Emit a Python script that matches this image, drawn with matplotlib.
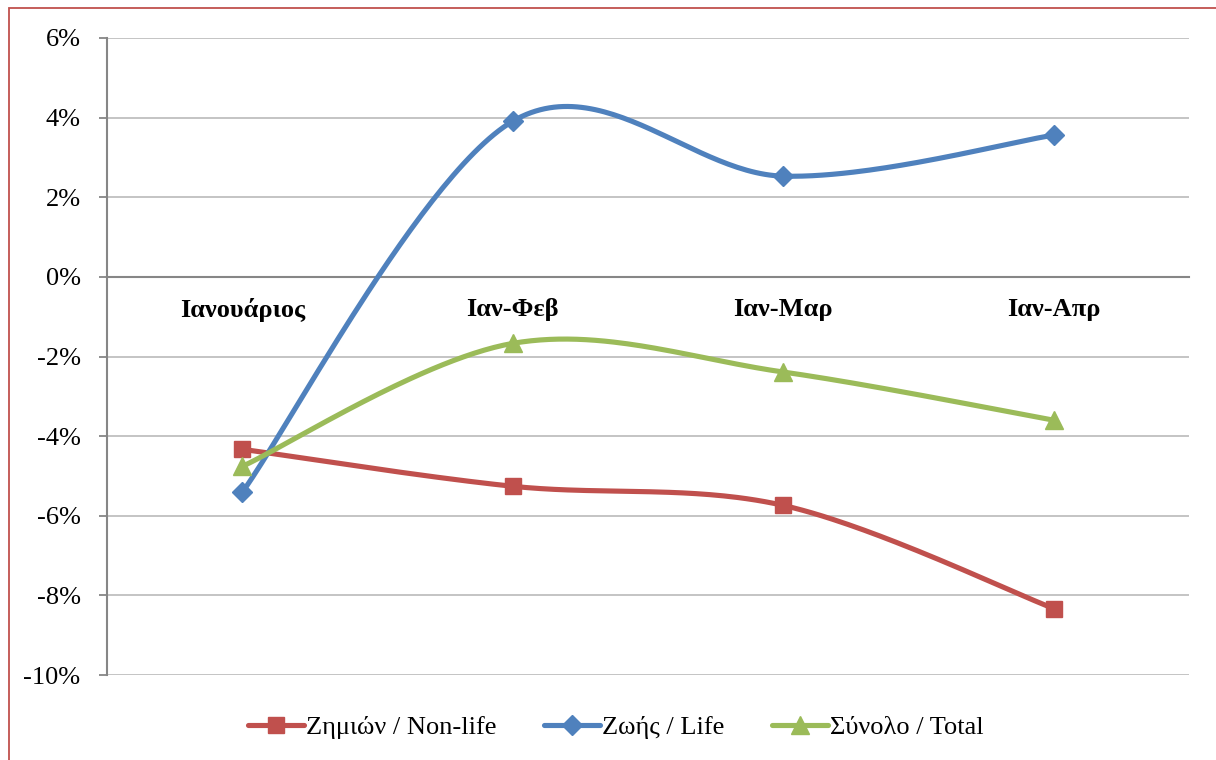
import numpy as np
import matplotlib
matplotlib.use("Agg")
import matplotlib.pyplot as plt
from matplotlib.lines import Line2D
from matplotlib.patches import Rectangle

categories = ["Ιανουάριος", "Ιαν-Φεβ", "Ιαν-Μαρ", "Ιαν-Απρ"]
nonlife = [-4.33, -5.26, -5.74, -8.33]
life = [-5.41, 3.91, 2.53, 3.56]
total = [-4.76, -1.67, -2.39, -3.60]
series_names = ["Ζημιών / Non-life", "Ζωής / Life", "Σύνολο / Total"]
yticks = [-10, -8, -6, -4, -2, 0, 2, 4, 6]

plt.rcParams['font.family'] = ['Liberation Serif', 'DejaVu Serif']

W, H = 1216, 760
fig = plt.figure(figsize=(W / 100, H / 100), dpi=100)
ax = fig.add_axes([107 / W, 1 - 675 / H, (1189 - 107) / W, (675 - 38) / H])


def excel_smooth(xs, ys, n=60):
    P = np.column_stack([xs, ys]).astype(float)
    m = len(P)
    out = []
    for i in range(m - 1):
        p0 = P[i - 1] if i > 0 else P[i]
        p1 = P[i]
        p2 = P[i + 1]
        p3 = P[i + 2] if i + 2 < m else P[i + 1]
        c1 = p1 + (p2 - p0) / 6.0
        c2 = p2 - (p3 - p1) / 6.0
        t = np.linspace(0, 1, n)[:, None]
        seg = ((1 - t) ** 3) * p1 + 3 * ((1 - t) ** 2) * t * c1 + 3 * (1 - t) * t ** 2 * c2 + t ** 3 * p2
        out.append(seg if i == 0 else seg[1:])
    s = np.vstack(out)
    return s[:, 0], s[:, 1]


x = np.arange(len(categories))
LW = 3.7
styles = [
    (nonlife, "#C0504D", "s", 12),
    (life, "#4F81BD", "D", 10.5),
    (total, "#9BBB59", "^", 13),
]
handles = []
for (vals, col, mk, ms), name in zip(styles, series_names):
    sx, sy = excel_smooth(x, vals)
    ax.plot(sx, sy, color=col, lw=LW, solid_capstyle='round', zorder=3)
    ax.plot(x, vals, linestyle='none', marker=mk, color=col, ms=ms, zorder=4)
    handles.append(Line2D([0], [0], color=col, lw=LW, marker=mk, ms=ms,
                          solid_capstyle='round'))

ax.set_xlim(-0.5, len(categories) - 0.5)
ax.set_ylim(-10, 6)
ax.set_yticks(yticks)
ax.set_yticklabels([f"{v}%" for v in yticks], fontsize=19)
ax.yaxis.grid(True, color="#BFBFBF", lw=1.3, zorder=0)
ax.set_axisbelow(True)
ax.tick_params(axis='y', length=6, width=1.3, color="#868686", pad=13)

ax.spines['bottom'].set_position(('data', 0))
ax.spines['bottom'].set_color("#868686")
ax.spines['bottom'].set_linewidth(1.5)
ax.spines['left'].set_color("#868686")
ax.spines['left'].set_linewidth(1.5)
ax.spines['top'].set_visible(False)
ax.spines['right'].set_visible(False)
ax.set_xticks(x)
ax.set_xticklabels(categories, fontsize=19, fontweight='bold')
ax.tick_params(axis='x', length=0, pad=15)

fig.legend(handles, series_names, loc='center', bbox_to_anchor=(616 / W, 1 - 727 / H),
           ncol=3, frameon=False, fontsize=19, handlelength=2.1,
           handletextpad=0.1, columnspacing=1.8)

fig.patches.append(Rectangle((9 / W, 0 - 0.05), 1.2, (H - 8) / H + 0.05,
                             transform=fig.transFigure, fill=False,
                             edgecolor="#C0504D", lw=1.3))

fig.savefig("out.png", dpi=100)
